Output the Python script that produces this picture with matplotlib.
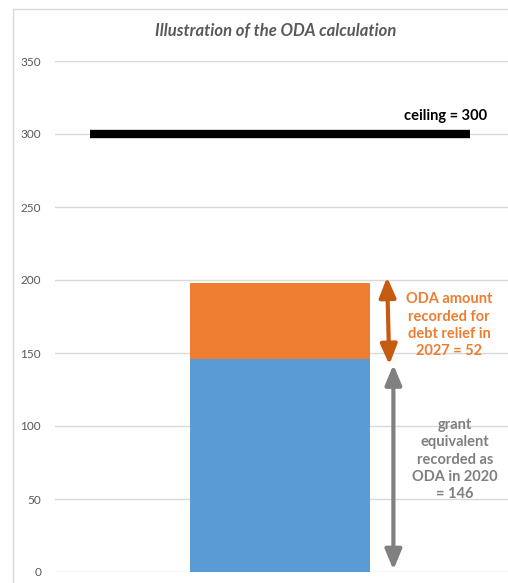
import matplotlib.pyplot as plt
from matplotlib.patches import Rectangle

plt.rcParams['font.family'] = ['Lato', 'DejaVu Sans']

# data
category = [0.497]
grant_equivalent = [146]
debt_relief = [52]
ceiling = 300
yticks = [0, 50, 100, 150, 200, 250, 300, 350]

fig = plt.figure(figsize=(5.08, 5.83), dpi=100)
ax = fig.add_axes([55 / 508, 1 - 572 / 583, 1 - 55 / 508, (572 - 61) / 583])

# chart border like excel
fig.patches.append(Rectangle((13 / 508, -0.1), 1.2, 1 - 9 / 583 + 0.1, transform=fig.transFigure,
                             fill=False, edgecolor='#d9d9d9', lw=1))

ax.bar(category, grant_equivalent, width=0.397, color='#5b9bd5', zorder=3)
ax.bar(category, debt_relief, bottom=grant_equivalent, width=0.397, color='#ed7d31', zorder=3)
ax.plot([0.077, 0.916], [ceiling, ceiling], color='black', lw=6, solid_capstyle='butt', zorder=4)

top = grant_equivalent[0] + debt_relief[0]
ax.annotate('', xy=(0.733, top + 4), xytext=(0.738, grant_equivalent[0] - 4),
            arrowprops=dict(arrowstyle='<|-|>,head_length=1.2,head_width=0.5',
                            color='#c55a11', lw=3, shrinkA=0, shrinkB=0), zorder=5)
ax.annotate('', xy=(0.747, grant_equivalent[0] - 4), xytext=(0.747, 1.5),
            arrowprops=dict(arrowstyle='<|-|>,head_length=1.2,head_width=0.5',
                            color='#808080', lw=3, shrinkA=0, shrinkB=0), zorder=5)

ax.text(0.954, 312, 'ceiling = 300', ha='right', va='center', fontsize=10.5,
        fontweight='bold', color='black')
ax.text(0.87, 169, 'ODA amount\nrecorded for\ndebt relief in\n2027 = 52', ha='center', va='center',
        fontsize=10.5, fontweight='bold', color='#ed7d31', linespacing=1.3)
ax.text(0.883, 77, 'grant\nequivalent\nrecorded as\nODA in 2020\n= 146', ha='center', va='center',
        fontsize=10.5, fontweight='bold', color='#7f7f7f', linespacing=1.3)

ax.set_xlim(0, 1)
ax.set_ylim(0, 350)
ax.set_yticks(yticks)
ax.set_xticks([])
ax.grid(axis='y', color='#d9d9d9', lw=1, zorder=0)
for s in ax.spines.values():
    s.set_visible(False)
ax.tick_params(axis='y', length=0, labelsize=8.5, labelcolor='#595959', pad=10)

fig.text(276 / 508, 1 - 31 / 583, 'Illustration of the ODA calculation', ha='center', va='center',
         fontsize=12, fontweight='bold', fontstyle='italic', color='#595959')

fig.savefig('out.png', dpi=100)
